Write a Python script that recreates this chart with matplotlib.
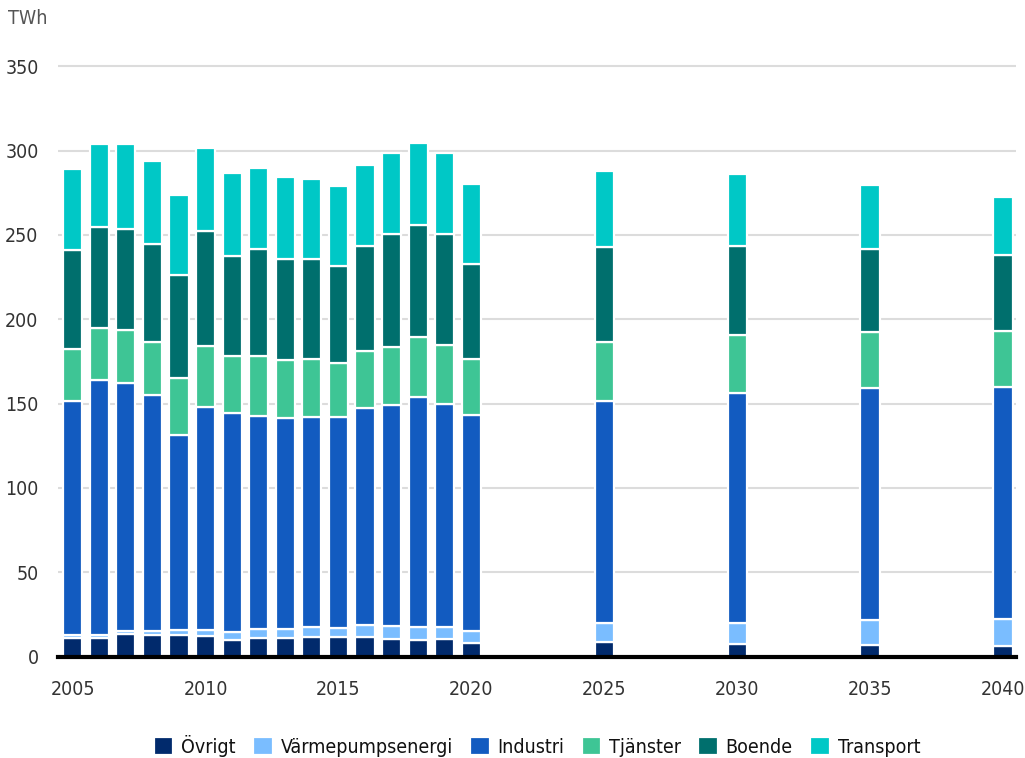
import matplotlib
matplotlib.use("Agg")
import matplotlib.pyplot as plt
import numpy as np

plt.rcParams['font.family'] = ['DejaVu Sans']
plt.rcParams['font.stretch'] = 'condensed'

# År och energianvändning per sektor (TWh)
years = [2005, 2006, 2007, 2008, 2009, 2010, 2011, 2012, 2013, 2014,
         2015, 2016, 2017, 2018, 2019, 2020, 2025, 2030, 2035, 2040]
ovrigt = [11.2, 10.8, 13.2, 12.6, 12.6, 12.0, 10.0, 11.2, 10.7, 11.8,
          11.4, 11.6, 10.6, 10.0, 10.4, 8.0, 8.6, 7.4, 6.8, 6.4]
varmepump = [1.3, 1.7, 1.7, 2.5, 3.1, 3.5, 4.3, 4.9, 5.4, 5.5,
             5.5, 6.9, 7.5, 7.5, 7.3, 7.3, 11.3, 12.7, 14.8, 15.8]
industri = [139.3, 151.3, 147.5, 140.2, 115.7, 132.5, 130.3, 126.5, 125.6, 125.0,
            125.4, 128.9, 130.9, 136.6, 131.9, 127.9, 131.9, 136.2, 137.9, 137.9]
tjanster = [30.4, 31.0, 31.2, 31.2, 34.0, 36.4, 33.6, 35.4, 34.0, 34.0,
            31.8, 33.6, 34.6, 35.6, 35.1, 33.1, 35.0, 34.6, 33.2, 32.9]
boende = [58.7, 60.2, 59.8, 58.4, 61.1, 67.8, 59.3, 63.7, 60.3, 59.3,
          57.5, 62.5, 67.2, 66.2, 65.7, 56.7, 56.1, 52.8, 49.2, 44.9]
transport = [48.5, 48.8, 50.6, 48.8, 47.2, 49.4, 49.5, 48.3, 48.4, 47.8,
             47.5, 48.0, 48.0, 48.9, 48.2, 47.2, 45.3, 42.3, 37.6, 34.6]

series = [ovrigt, varmepump, industri, tjanster, boende, transport]
labels = ['Övrigt', 'Värmepumpsenergi', 'Industri', 'Tjänster', 'Boende', 'Transport']
colors = ['#012A6C', '#7ABDFF', '#125BC0', '#3EC595', '#006F6D', '#00C8C6']

xticks = [2005, 2010, 2015, 2020, 2025, 2030, 2035, 2040]
yticks = [0, 50, 100, 150, 200, 250, 300, 350]

fig = plt.figure(figsize=(10.25, 7.58), dpi=100)
ax = fig.add_axes([0.0566, 0.1339, 0.9346, 0.783])

bottom = np.zeros(len(years))
for vals, lab, col in zip(series, labels, colors):
    ax.bar(years, vals, width=0.72, bottom=bottom, color=col, label=lab,
           edgecolor='white', linewidth=1.6, zorder=2)
    bottom += np.array(vals)

ax.set_xlim(2004.45, 2040.49)
ax.set_ylim(0, 352)
ax.set_xticks(xticks)
ax.set_yticks(yticks)
ax.tick_params(axis='both', length=0, labelsize=14, colors='#333333')
ax.tick_params(axis='x', pad=17)
ax.tick_params(axis='y', pad=14)

ax.grid(axis='y', color='#dcdcdc', linewidth=1.5, zorder=0)
ax.set_axisbelow(True)
for side in ['top', 'right', 'left']:
    ax.spines[side].set_visible(False)
ax.spines['bottom'].set_linewidth(3)
ax.spines['bottom'].set_color('black')
ax.spines['bottom'].set_zorder(3)

fig.text(8 / 1025, 1 - 18 / 758, 'TWh', fontsize=14, color='#555555',
         ha='left', va='center')

ax.legend(loc='center', bbox_to_anchor=(0.5, -0.15), ncol=6, frameon=False,
          fontsize=14, handlelength=1.0, handleheight=1.0, handletextpad=0.4,
          columnspacing=0.9, labelcolor='#111111')

fig.savefig('out.png', dpi=100)
